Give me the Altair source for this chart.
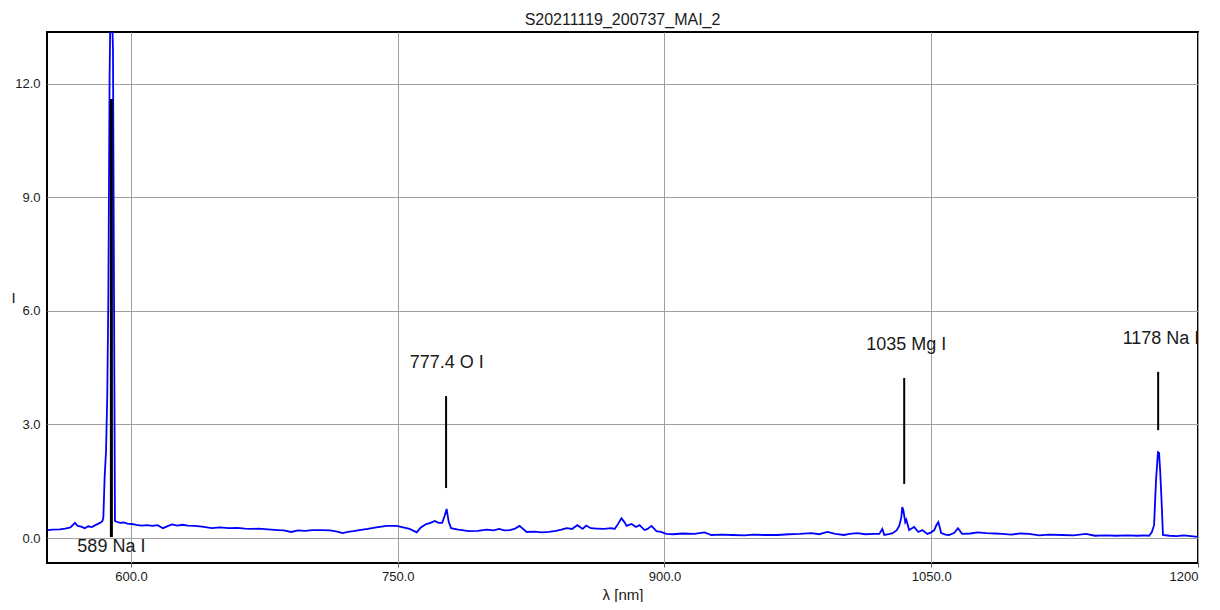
import altair as alt
import pandas as pd

# ---- spectrum ----
wl = [553, 556, 560, 563, 566, 568.5, 570, 572, 574, 576, 578, 580, 582.6, 584, 584.5,
      585.2, 586, 586.7, 587.3, 588, 588.6, 589.3, 589.9, 590.5, 591, 592, 594, 596, 598,
      600.6, 603, 606, 609, 612, 615, 618, 620, 623, 626, 629, 632, 636, 640, 645.5, 650,
      655, 660, 664, 668, 672, 677, 682.6, 686, 690, 694, 698, 702, 707, 712, 716, 719,
      722, 725, 728.6, 733, 738, 743.8, 749.4, 753, 756.7, 760.7, 763, 766, 768.5, 770.8,
      773, 775, 776.5, 777.5, 778.7, 780, 784, 790, 795, 800, 804, 807, 810, 813, 816,
      818.5, 822.5, 827, 831, 835, 839, 842, 845, 848, 851, 854, 856, 858.5, 861.8, 866,
      870, 872, 874, 875.8, 877.5, 878.7, 881.5, 884, 886, 888.8, 890.5, 892.7, 895.5, 898,
      901, 905, 910, 916.8, 922.5, 926.4, 932, 938, 945, 950, 956, 963.5, 970, 976, 982.6,
      987, 991.6, 996, 1001, 1004, 1008.4, 1013, 1018, 1020.8, 1022.5, 1023.6, 1026, 1028,
      1030.5, 1032, 1033.2, 1033.7, 1034.3, 1035.4, 1036, 1037.6, 1039, 1040.4, 1042.7,
      1045, 1047.8, 1050, 1051.7, 1053, 1054, 1055.6, 1058, 1060, 1063, 1065, 1067.4, 1072,
      1076, 1081, 1086, 1090, 1095, 1100, 1105, 1110.7, 1116, 1123.6, 1130, 1137, 1142,
      1148, 1154, 1160, 1166, 1170, 1172.5, 1174, 1175.3, 1176.4, 1177.5, 1178.1, 1178.7,
      1179.5, 1180.3, 1184, 1188, 1192, 1196, 1200]
intensity = [0.21, 0.22, 0.23, 0.25, 0.28, 0.40, 0.32, 0.30, 0.26, 0.31, 0.29, 0.34, 0.40, 0.45, 0.55,
             1.6, 2.3, 3.8, 6.4, 12.2, 14.5, 14.0, 12.9, 6.2, 0.45, 0.43, 0.40, 0.41, 0.38,
             0.37, 0.35, 0.33, 0.34, 0.32, 0.34, 0.26, 0.30, 0.36, 0.33, 0.35, 0.33, 0.32, 0.30, 0.26, 0.28,
             0.26, 0.27, 0.25, 0.24, 0.25, 0.23, 0.21, 0.20, 0.16, 0.20, 0.19, 0.21, 0.21, 0.20, 0.17, 0.13,
             0.16, 0.18, 0.21, 0.24, 0.28, 0.32, 0.32, 0.28, 0.24, 0.15, 0.28, 0.37, 0.40, 0.45,
             0.40, 0.40, 0.60, 0.77, 0.42, 0.26, 0.22, 0.18, 0.19, 0.22, 0.20, 0.24, 0.20, 0.21, 0.25,
             0.32, 0.16, 0.17, 0.15, 0.16, 0.19, 0.22, 0.26, 0.24, 0.34, 0.24, 0.33, 0.26, 0.25, 0.24,
             0.26, 0.24, 0.38, 0.52, 0.42, 0.32, 0.37, 0.29, 0.34, 0.21, 0.24, 0.32, 0.18, 0.16,
             0.11, 0.10, 0.12, 0.11, 0.15, 0.08, 0.09, 0.08, 0.07, 0.09, 0.08, 0.08, 0.10, 0.11, 0.13,
             0.10, 0.16, 0.11, 0.08, 0.11, 0.13, 0.10, 0.11, 0.11, 0.24, 0.08, 0.10, 0.12,
             0.20, 0.32, 0.55, 0.82, 0.74, 0.42, 0.48, 0.21, 0.25, 0.29, 0.16,
             0.21, 0.11, 0.15, 0.21, 0.35, 0.42, 0.13, 0.09, 0.08, 0.14, 0.26, 0.11, 0.12,
             0.15, 0.13, 0.12, 0.11, 0.09, 0.12, 0.11, 0.07, 0.09, 0.08, 0.07, 0.11, 0.06,
             0.07, 0.06, 0.07, 0.06, 0.07, 0.06, 0.15, 0.34, 1.53, 2.27, 2.25, 1.8,
             1.0, 0.08, 0.06, 0.05, 0.07, 0.05, 0.03]

# ---- line annotations ----
ann_label = ["589 Na I", "777.4 O I", "1035 Mg I", "1178 Na I"]
ann_x = [589.0, 777.2, 1034.8, 1177.6]
ann_low = [0.03, 1.32, 1.43, 2.85]
ann_high = [11.6, 3.75, 4.23, 4.39]
ann_text_x = [589.0, 777.6, 1036.0, 1179.2]
ann_text_y = [-0.23, 4.63, 5.10, 5.26]

x_ticks = [600, 750, 900, 1050, 1200]
y_ticks = [0, 3, 6, 9, 12]

spec = pd.DataFrame({"wl": wl, "I": intensity})
ann = pd.DataFrame({"label": ann_label, "x": ann_x, "lo": ann_low, "hi": ann_high,
                    "tx": ann_text_x, "ty": ann_text_y})

FONT = "Liberation Sans"
xscale = alt.Scale(domain=[552.8, 1200], nice=False, zero=False)
yscale = alt.Scale(domain=[-0.66, 13.37], nice=False, zero=False)

xaxis = alt.Axis(values=x_ticks, title="λ [nm]",
                 labelExpr="datum.value == 1200 ? '1200' : format(datum.value, '.1f')",
                 grid=True, gridColor="#a0a0a0", gridWidth=1, domain=False,
                 ticks=True, tickSize=4, tickColor="#606060", labelPadding=3,
                 labelFont=FONT, labelFontSize=13, labelColor="#1a1a1a",
                 titleFont=FONT, titleFontSize=15, titleFontWeight="normal",
                 titleColor="#1a1a1a", titlePadding=4)
yaxis = alt.Axis(values=y_ticks, title="I", format=".1f",
                 grid=True, gridColor="#a0a0a0", gridWidth=1, domain=False,
                 ticks=False, labelPadding=7,
                 labelFont=FONT, labelFontSize=13, labelColor="#1a1a1a",
                 titleFont=FONT, titleFontSize=15, titleFontWeight="normal",
                 titleColor="#1a1a1a", titleAngle=0, titleX=-34, titleY=265,
                 titleAlign="center", titleBaseline="middle")

line = alt.Chart(spec).mark_line(color="#0000ff", strokeWidth=1.8, clip=True).encode(
    x=alt.X("wl:Q", scale=xscale, axis=xaxis),
    y=alt.Y("I:Q", scale=yscale, axis=yaxis),
)

rule_thick = alt.Chart(ann).transform_filter(alt.datum.label == "589 Na I").mark_rule(
    color="black", strokeWidth=3).encode(
    x=alt.X("x:Q", scale=xscale), y=alt.Y("lo:Q", scale=yscale), y2="hi:Q")
rule_thin = alt.Chart(ann).transform_filter(alt.datum.label != "589 Na I").mark_rule(
    color="black", strokeWidth=2).encode(
    x=alt.X("x:Q", scale=xscale), y=alt.Y("lo:Q", scale=yscale), y2="hi:Q")

texts = alt.Chart(ann).mark_text(font=FONT, fontSize=18, color="#1a1a1a",
                                 baseline="middle", align="center", clip=True).encode(
    x=alt.X("tx:Q", scale=xscale), y=alt.Y("ty:Q", scale=yscale), text="label:N")

chart = alt.layer(line, rule_thick, rule_thin, texts).properties(
    width=1151, height=531,
    title=alt.TitleParams("S20211119_200737_MAI_2", font=FONT, fontSize=16,
                          fontWeight="normal", color="#1a1a1a", anchor="middle", offset=4),
    autosize=alt.AutoSizeParams(type="none"),
    padding={"left": 39, "top": 24, "right": 14, "bottom": 39},
).configure_view(stroke="black", strokeWidth=2)

chart.save("out.html", embed_options={"renderer": "svg", "actions": False})
